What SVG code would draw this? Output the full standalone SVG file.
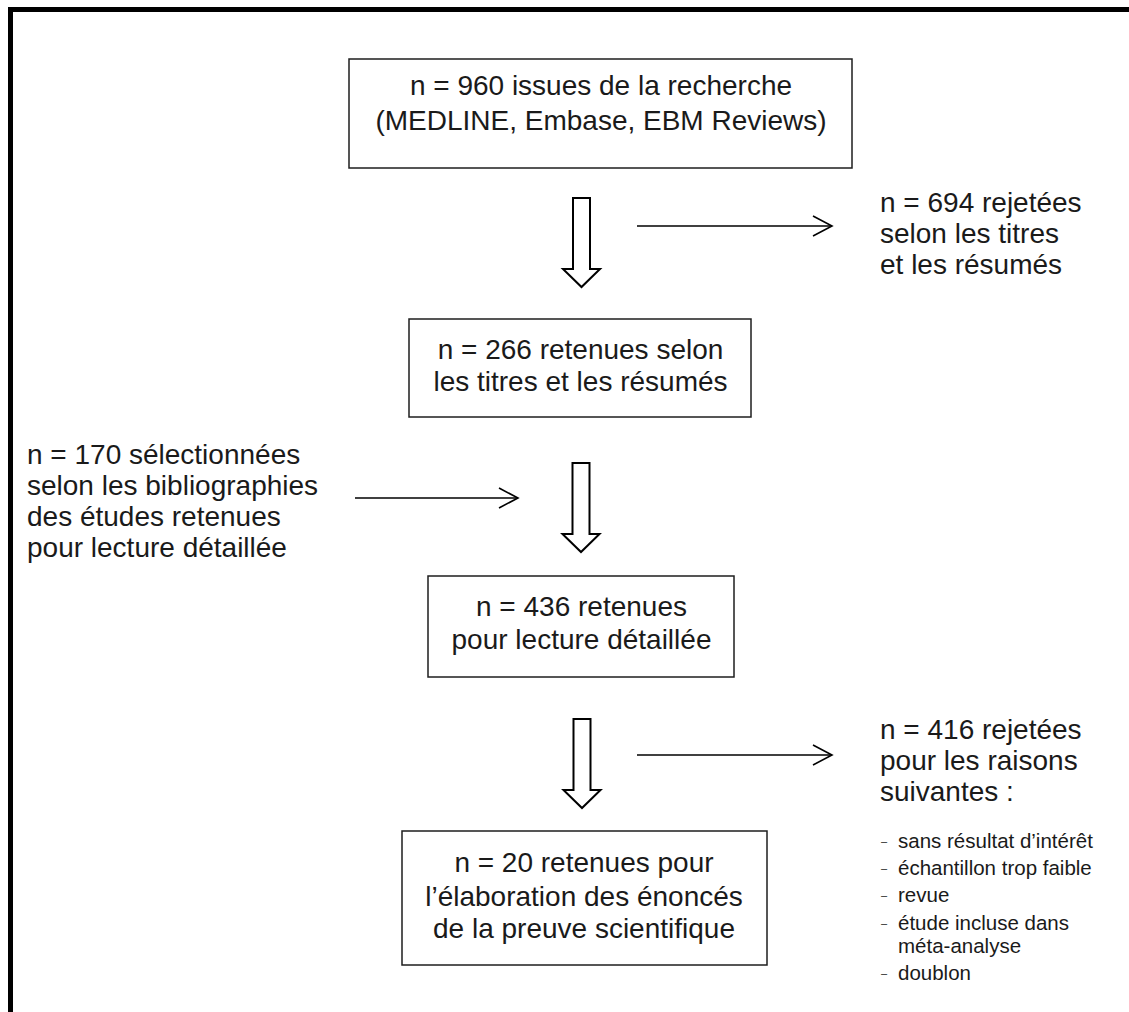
<svg xmlns="http://www.w3.org/2000/svg" width="1129" height="1012" viewBox="0 0 1129 1012">
<defs>
<style>
.box{fill:#fff;stroke:#1e1e1e;stroke-width:1.5}
.t{font-family:"Liberation Sans",Arial,sans-serif;font-size:28px;fill:#1a1a1a}
.c{text-anchor:middle}
.ts{font-family:"Liberation Sans",Arial,sans-serif;font-size:20.5px;fill:#1a1a1a}
.dash{font-family:"Liberation Sans",Arial,sans-serif;font-size:11px;fill:#1a1a1a}
.hollow{fill:#fff;stroke:#000;stroke-width:2;stroke-linejoin:miter}
.thin{fill:none;stroke:#000;stroke-width:1.6}
</style>
<path id="bigArrow" class="hollow" d="M-8.5,0 H8.5 V71 H18.5 L0,89 L-18.5,71 H-8.5 Z"/>
<marker id="chev" markerUnits="userSpaceOnUse" markerWidth="24" markerHeight="24" refX="20" refY="11" orient="auto">
<path d="M1,1 L20,11 L1,21" fill="none" stroke="#000" stroke-width="1.6"/>
</marker>
</defs>
<rect width="1129" height="1012" fill="#fff"/>
<path d="M10.5,1012 V9.5 H1129" fill="none" stroke="#000" stroke-width="5"/>

<g id="connectors">
<use href="#bigArrow" transform="translate(581.5,198)"/>
<use href="#bigArrow" transform="translate(581,463)"/>
<use href="#bigArrow" transform="translate(582,719)"/>
<line class="thin" x1="637" y1="226" x2="832" y2="226" marker-end="url(#chev)"/>
<line class="thin" x1="355" y1="498" x2="518" y2="498" marker-end="url(#chev)"/>
<line class="thin" x1="637" y1="755" x2="832" y2="755" marker-end="url(#chev)"/>
</g>

<g id="box1">
<rect class="box" x="349" y="59" width="503" height="109"/>
<text class="t c"><tspan x="601" y="95">n = 960 issues de la recherche</tspan><tspan x="601" y="130">(MEDLINE, Embase, EBM Reviews)</tspan></text>
</g>

<g id="rejected1">
<text class="t"><tspan x="880" y="212">n = 694 rejetées</tspan><tspan x="880" y="243">selon les titres</tspan><tspan x="880" y="274">et les résumés</tspan></text>
</g>

<g id="box2">
<rect class="box" x="409" y="319" width="342" height="98"/>
<text class="t c"><tspan x="580.5" y="359">n = 266 retenues selon</tspan><tspan x="580.5" y="391">les titres et les résumés</tspan></text>
</g>

<g id="added">
<text class="t"><tspan x="27" y="464">n = 170 sélectionnées</tspan><tspan x="27" y="495">selon les bibliographies</tspan><tspan x="27" y="526">des études retenues</tspan><tspan x="27" y="557">pour lecture détaillée</tspan></text>
</g>

<g id="box3">
<rect class="box" x="428" y="576" width="306" height="101"/>
<text class="t c"><tspan x="581.5" y="616">n = 436 retenues</tspan><tspan x="581.5" y="649">pour lecture détaillée</tspan></text>
</g>

<g id="rejected2">
<text class="t"><tspan x="880" y="739">n = 416 rejetées</tspan><tspan x="880" y="770">pour les raisons</tspan><tspan x="880" y="801">suivantes :</tspan></text>
<text class="dash"><tspan x="881" y="845">–</tspan><tspan x="881" y="872">–</tspan><tspan x="881" y="899">–</tspan><tspan x="881" y="927">–</tspan><tspan x="881" y="977">–</tspan></text>
<text class="ts"><tspan x="898" y="848">sans résultat d’intérêt</tspan><tspan x="898" y="875">échantillon trop faible</tspan><tspan x="898" y="902">revue</tspan><tspan x="898" y="930">étude incluse dans</tspan><tspan x="898" y="953">méta-analyse</tspan><tspan x="898" y="980">doublon</tspan></text>
</g>

<g id="box5">
<rect class="box" x="402" y="831" width="365" height="134"/>
<text class="t c"><tspan x="584" y="872">n = 20 retenues pour</tspan><tspan x="584" y="906">l’élaboration des énoncés</tspan><tspan x="584" y="938">de la preuve scientifique</tspan></text>
</g>
</svg>
